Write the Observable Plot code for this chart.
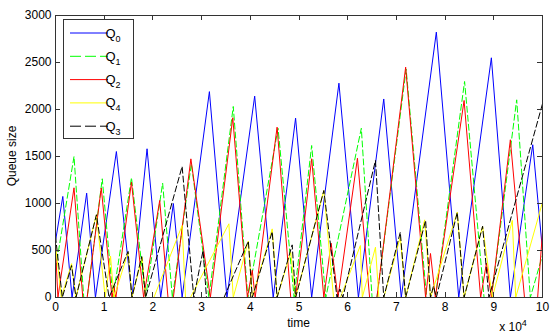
<!DOCTYPE html>
<html><head><meta charset="utf-8">
<script src="https://cdn.jsdelivr.net/npm/d3@7"></script>
<script src="https://cdn.jsdelivr.net/npm/@observablehq/plot@0.6"></script>
<style>
body{margin:0;background:#fff;}
#chart{position:relative;width:554px;height:335px;font-family:"Liberation Sans",Arial,sans-serif;}
</style>
</head><body><div id="chart"></div>
<script>
// time in units of 10^4, queue size
const q0 = [[0,600],[0.15,1075],[0.34,0],[0.64,1110],[0.82,0],[1.25,1553],[1.57,0],[1.88,1582],[2.16,0],[2.42,1000],[2.6,0],[3.16,2190],[3.52,0],[4.09,2142],[4.47,0],[4.93,1908],[5.26,0],[5.82,2280],[6.22,0],[6.74,2112],[7.1,0],[7.82,2823],[8.28,0],[8.95,2550],[9.34,0],[9.8,1625],[10,500]];
const q1 = [[0,300],[0.38,1500],[0.58,0],[0.65,0],[0.96,1263],[1.18,0],[1.56,1274],[1.85,0],[2.2,1216],[2.4,0],[2.79,1422],[3.15,0],[3.65,2032],[3.95,0],[4.57,1800],[4.9,0],[5.26,1617],[5.55,0],[6.28,1800],[6.5,0],[6.6,0],[7.2,2430],[7.62,0],[7.8,0],[8.4,2298],[8.8,0],[8.95,0],[9.47,2103],[9.75,0],[10,450]];
const q2 = [[0,520],[0.05,0],[0.38,1167],[0.56,0],[0.65,0],[0.94,1165],[1.16,0],[1.2,120],[1.24,0],[1.56,1227],[1.81,0],[2.14,1032],[2.31,0],[2.42,0],[2.78,1475],[3.18,0],[3.64,1912],[3.94,0],[4.04,290],[4.1,0],[4.55,1812],[4.83,0],[4.93,0],[5.26,1476],[5.51,0],[5.66,578],[5.8,0],[6.2,1482],[6.45,0],[6.6,0],[7.19,2450],[7.6,0],[7.7,468],[7.8,0],[8.39,2096],[8.73,0],[8.85,365],[8.95,0],[9.34,1678],[9.63,0],[9.9,0],[10,695]];
const q4 = [[0,560],[0.12,0],[0.33,360],[0.42,0],[0.84,880],[1.02,0],[1.13,440],[1.2,0],[1.49,480],[1.57,0],[1.78,430],[1.85,0],[2.02,0],[2.6,766],[2.67,0],[2.77,0],[3.56,784],[3.65,0],[3.96,600],[4.04,0],[4.45,730],[4.55,0],[4.83,480],[4.93,0],[5.51,1138],[5.71,0],[5.85,0],[6.26,553],[6.3,0],[6.57,535],[6.64,0],[6.74,0],[7.08,642],[7.19,0],[7.58,826],[7.7,0],[8.25,908],[8.39,0],[8.77,758],[8.97,0],[9.38,820],[9.45,0],[10,1014]];
const q3 = [[0,650],[0.14,0],[0.33,340],[0.42,0],[0.84,880],[1.1,0],[1.49,490],[1.57,0],[1.77,436],[1.85,0],[2.6,1394],[2.84,0],[3.03,500],[3.1,0],[3.46,0],[3.96,600],[4.04,0],[4.45,700],[4.55,0],[4.86,560],[4.93,0],[5.51,1138],[5.78,0],[5.84,90],[5.9,0],[6.57,1458],[6.74,0],[7.08,695],[7.19,0],[7.6,820],[7.7,0],[7.76,120],[7.82,0],[8.25,905],[8.39,0],[8.77,758],[8.9,0],[10,2061]];

const seriesData = [q0, q1, q2, q4, q3];
const seriesSubs = ["0","1","2","4","3"];
const seriesColors = ["#0000ff","#00ff00","#ff0000","#ffff00","#000000"];
const seriesDash = [null,"6,3",null,null,"6,3"];
const xTicks = [0,1,2,3,4,5,6,7,8,9,10];
const yTicks = [0,500,1000,1500,2000,2500,3000];

const W = 554, H = 335;
const chart = Plot.plot({
  width: W, height: H,
  marginLeft: 55, marginRight: 12, marginTop: 15, marginBottom: 38,
  style: {fontFamily: '"Liberation Sans", Arial, sans-serif', fontSize: "12px", background: "#fff"},
  x: {domain: [0,10], ticks: xTicks, tickFormat: d => String(d), label: null},
  y: {domain: [0,3000], ticks: yTicks, tickFormat: d => String(d), label: null},
  marks: [
    ...seriesData.map((d,i) => Plot.line(d, {x: p => p[0], y: p => p[1], stroke: seriesColors[i], strokeWidth: 1, strokeDasharray: seriesDash[i] || undefined, strokeLinejoin: "miter"})),
    Plot.frame({stroke: "#333", strokeWidth: 1}),
    Plot.axisX({ticks: xTicks, tickSize: 0, tickPadding: 5, tickFormat: d => String(d), fill: "#000", label: null}),
    Plot.axisY({ticks: yTicks, tickSize: 0, tickPadding: 4, tickFormat: d => String(d), fill: "#000", label: null})
  ]
});
document.getElementById("chart").appendChild(chart);

const sx = chart.scale("x"), sy = chart.scale("y");
const svg = d3.select(chart);
const g = svg.append("g").attr("stroke", "#333").attr("stroke-width", 1);
const x0 = sx.apply(0), x1 = sx.apply(10), y0 = sy.apply(0), y1 = sy.apply(3000);
const tl = 5;
xTicks.forEach(t => {
  const px = Math.round(sx.apply(t)) + 0.5;
  g.append("line").attr("x1", px).attr("x2", px).attr("y1", y0).attr("y2", y0 - tl);
  g.append("line").attr("x1", px).attr("x2", px).attr("y1", y1).attr("y2", y1 + tl);
});
yTicks.forEach(v => {
  const py = Math.round(sy.apply(v)) + 0.5;
  g.append("line").attr("y1", py).attr("y2", py).attr("x1", x0).attr("x2", x0 + tl);
  g.append("line").attr("y1", py).attr("y2", py).attr("x1", x1).attr("x2", x1 - tl);
});

// axis titles
svg.append("text").attr("x", 0).attr("y", 0)
  .attr("transform", `translate(16,${(y0+y1)/2}) rotate(-90)`)
  .attr("text-anchor", "middle").attr("font-size", 12).attr("fill", "#000").text("Queue size");
svg.append("text").attr("x", (x0+x1)/2 + 0).attr("y", 327)
  .attr("text-anchor", "middle").attr("font-size", 12).attr("fill", "#000").text("time");
const e = svg.append("text").attr("x", 513).attr("y", 331).attr("font-size", 12).attr("fill", "#000");
e.append("tspan").text("x 10");
e.append("tspan").attr("dy", -5).attr("font-size", 9).text("4");

// legend
const lg = svg.append("g");
const lx = x0 + 8, ly = y1 + 4;
lg.append("rect").attr("x", lx + 0.5).attr("y", ly + 0.5).attr("width", 70).attr("height", 119)
  .attr("fill", "#fff").attr("stroke", "#333").attr("stroke-width", 1);
seriesData.forEach((d,i) => {
  const ry = ly + 14 + i * 23.3;
  lg.append("line").attr("x1", lx + 7).attr("x2", lx + 45).attr("y1", ry).attr("y2", ry)
    .attr("stroke", seriesColors[i]).attr("stroke-width", 1)
    .attr("stroke-dasharray", seriesDash[i] ? "11,4" : null);
  const t = lg.append("text").attr("x", lx + 50).attr("y", ry + 4.5).attr("font-size", 13).attr("fill", "#000");
  t.append("tspan").text("Q");
  t.append("tspan").attr("dy", 4).attr("font-size", 9).text(seriesSubs[i]);
});
</script>
</body></html>
